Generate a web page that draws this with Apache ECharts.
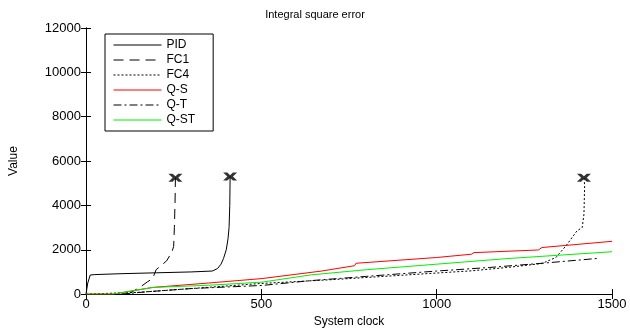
<!DOCTYPE html>
<html>
<head>
<meta charset="utf-8">
<script src="https://cdn.jsdelivr.net/npm/echarts@6/dist/echarts.min.js"></script>
<style>
  html, body { margin: 0; padding: 0; background: #fff; }
  #chart { width: 630px; height: 333px; }
</style>
</head>
<body>
<div id="chart"></div>
<script>
// values
const pidX = [0, 5, 12, 25, 100, 200, 300, 360, 375, 385, 392, 400, 405, 408, 410, 411];
const pidY = [0, 500, 860, 880, 920, 960, 1000, 1040, 1150, 1350, 1600, 2000, 2500, 3000, 4000, 5300];

const fc1X = [120, 153, 175, 190, 200, 215, 230, 245, 250, 252, 254, 255];
const fc1Y = [0, 300, 550, 700, 1100, 1300, 1500, 1900, 2150, 3000, 4200, 5250];

const fc4X = [0, 150, 300, 500, 700, 900, 1100, 1200, 1300, 1340, 1370, 1400, 1415, 1420, 1422, 1420];
const fc4Y = [0, 80, 250, 480, 650, 850, 1050, 1200, 1380, 1650, 2200, 2850, 3000, 3600, 4900, 5250];

const qsX = [0, 77, 190, 350, 502, 672, 766, 770, 1000, 1100, 1106, 1290, 1300, 1500];
const qsY = [0, 0, 300, 500, 700, 1040, 1280, 1390, 1650, 1800, 1870, 1990, 2100, 2380];

const qtX = [100, 171, 300, 502, 643, 800, 1000, 1150, 1300, 1460];
const qtY = [0, 100, 250, 390, 610, 800, 1040, 1200, 1390, 1610];

const qstX = [0, 77, 190, 350, 502, 643, 800, 1000, 1200, 1500];
const qstY = [0, 0, 300, 400, 540, 870, 1100, 1350, 1600, 1910];

const pairs = (xs, ys) => xs.map((x, i) => [x, ys[i]]);
const last = (xs, ys) => [xs[xs.length - 1], ys[ys.length - 1]];

const font = 'Liberation Sans, Arial, sans-serif';
const chart = echarts.init(document.getElementById('chart'));

const boxAxis = {
  axisLine: { show: true, lineStyle: { color: '#000', width: 1 } },
  axisTick: { show: true, inside: true, length: 5, lineStyle: { color: '#000' } },
  splitLine: { show: false }
};

const line = (name, xs, ys, color, type) => ({
  name: name,
  type: 'line',
  data: pairs(xs, ys),
  symbol: 'none',
  lineStyle: { color: color, width: 1, type: type },
  itemStyle: { color: color },
  animation: false,
  z: 3
});

chart.setOption({
  backgroundColor: '#fff',
  title: {
    text: 'Integral square error',
    left: 'center',
    top: 4,
    textStyle: { fontFamily: font, fontSize: 11, fontWeight: 'normal', color: '#000' }
  },
  grid: { left: 83, top: 28, right: 18, bottom: 29 },
  legend: {
    left: 105,
    top: 34,
    orient: 'vertical',
    itemWidth: 48,
    itemHeight: 12,
    itemGap: 3,
    padding: [5, 18, 5, 8],
    borderColor: '#000',
    borderWidth: 1,
    backgroundColor: '#fff',
    itemStyle: { opacity: 0 },
    lineStyle: { width: 1 },
    data: ['PID', 'FC1', 'FC4', 'Q-S', 'Q-T', 'Q-ST'],
    textStyle: { fontFamily: font, fontSize: 12, color: '#000' }
  },
  xAxis: [
    Object.assign({
      type: 'value', min: 0, max: 1500, interval: 500,
      name: 'System clock', nameLocation: 'middle', nameGap: 20,
      nameTextStyle: { fontFamily: font, fontSize: 12, color: '#000' },
      axisLabel: { fontFamily: font, fontSize: 13, color: '#000', margin: 4, formatter: v => String(v) }
    }, boxAxis),
    Object.assign({
      type: 'value', min: 0, max: 1500, interval: 500, position: 'top',
      axisLabel: { show: false }
    }, boxAxis)
  ],
  yAxis: [
    Object.assign({
      type: 'value', min: 0, max: 12000, interval: 2000,
      name: 'Value', nameLocation: 'middle', nameGap: 66,
      nameTextStyle: { fontFamily: font, fontSize: 12, color: '#000' },
      axisLabel: { fontFamily: font, fontSize: 13, color: '#000', margin: 5, formatter: v => String(v) }
    }, boxAxis),
    Object.assign({
      type: 'value', min: 0, max: 12000, interval: 2000, position: 'right',
      axisLabel: { show: false }
    }, boxAxis)
  ],
  series: [
    line('PID', pidX, pidY, '#000', 'solid'),
    line('FC1', fc1X, fc1Y, '#000', [10, 6]),
    line('FC4', fc4X, fc4Y, '#000', [2, 2]),
    line('Q-S', qsX, qsY, '#ff0000', 'solid'),
    line('Q-T', qtX, qtY, '#000', [8, 3, 2, 3]),
    line('Q-ST', qstX, qstY, '#00ee00', 'solid'),
    {
      type: 'scatter',
      data: [last(pidX, pidY), last(fc1X, fc1Y), last(fc4X, fc4Y)],
      symbol: 'path://M0,0L3,0L5,2L7,0L10,0L7,3L10,6L7,6L5,4L3,6L0,6L3,3Z',
      symbolSize: [14, 8],
      itemStyle: { color: '#000' },
      animation: false,
      z: 4
    }
  ]
});
</script>
</body>
</html>
